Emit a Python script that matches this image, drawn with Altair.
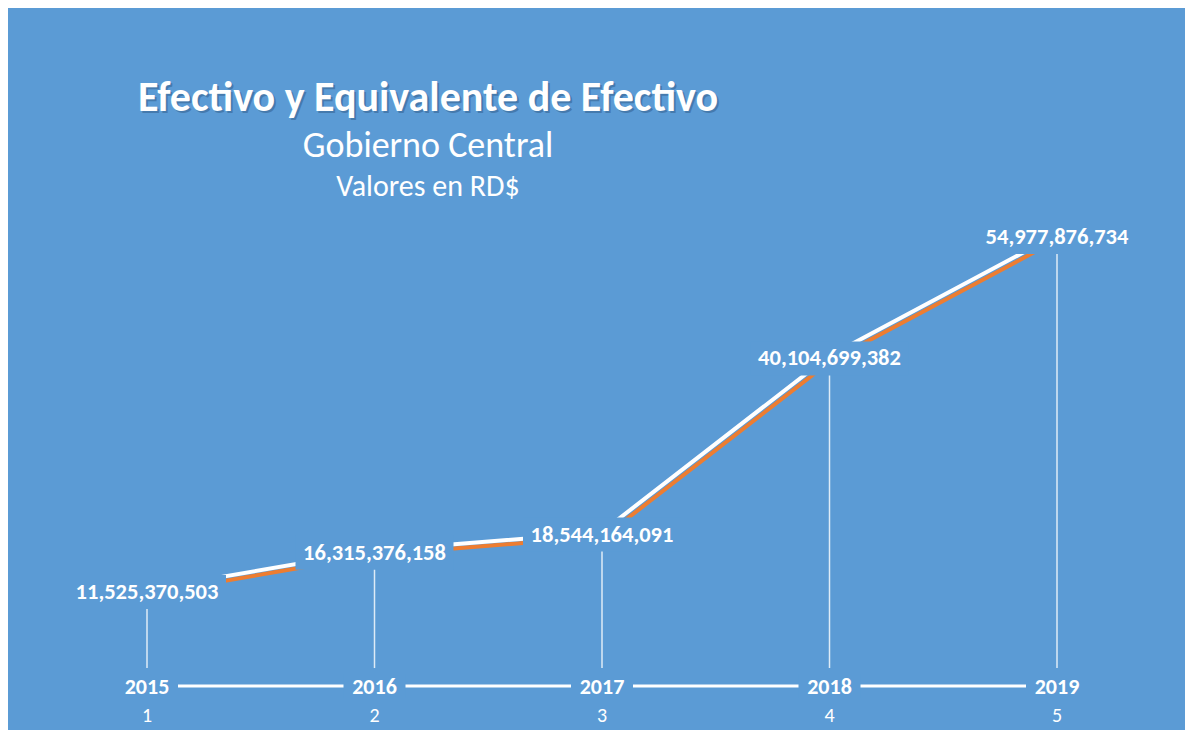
import altair as alt
import pandas as pd

# ---- data ----
years = [2015, 2016, 2017, 2018, 2019]
values = [11525370503, 16315376158, 18544164091, 40104699382, 54977876734]
index_labels = ["1", "2", "3", "4", "5"]
title_lines = ["Efectivo y Equivalente de Efectivo", "Gobierno Central", "Valores en RD$"]

BG = "#5B9BD5"
ORANGE = "#ED7D31"
FONT = "Carlito, Calibri, Lato, sans-serif"

df = pd.DataFrame({"year": years, "value": values, "idx": index_labels})

xs = alt.Scale(domain=[2015, 2019], range=[139, 1049], nice=False, zero=False)
ys = alt.Scale(domain=[0, 60e9], range=[678, 188], nice=False, zero=False)

X = alt.X("year:Q", scale=xs, axis=None)
Y = alt.Y("value:Q", scale=ys, axis=None)
Y0 = alt.YDatum(0, type="quantitative", scale=ys, axis=None)

base = alt.Chart(df)

orange_line = base.mark_line(color=ORANGE, strokeWidth=4, xOffset=2, yOffset=2).encode(x=X, y=Y)
white_line = base.mark_line(color="white", strokeWidth=4, xOffset=-1, yOffset=-2).encode(x=X, y=Y)

drops = base.mark_rule(color="white", strokeWidth=1.5, opacity=0.8).encode(
    x=X, y=Y, y2=alt.Y2Datum(2.2e9)
)

label_boxes = base.mark_rect(fill=BG, width=158, height=34).encode(x=X, y=Y)

axis_line = base.mark_rule(color="white", strokeWidth=3).encode(
    x=alt.X("min(year):Q", scale=xs, axis=None), x2="max(year):Q", y=Y0
)
year_boxes = base.mark_rect(fill=BG, width=62, height=24).encode(x=X, y=Y0)

year_text = base.mark_text(font=FONT, fontSize=22, fontWeight="bold", color="white",
                           baseline="middle", dy=1).encode(
    x=X, y=Y0, text=alt.Text("year:Q", format="d"))
idx_text = base.mark_text(font=FONT, fontSize=20, color="white",
                          baseline="middle", dy=30).encode(
    x=X, y=Y0, text="idx:N")

value_text = base.mark_text(font=FONT, fontSize=22.5, fontWeight="bold", color="white",
                            baseline="middle").encode(
    x=X, y=Y, text=alt.Text("value:Q", format=",.0f"))

tdf = pd.DataFrame({"t": title_lines[:1]})
sdf = pd.DataFrame({"t": title_lines[1:2]})
vdf = pd.DataFrame({"t": title_lines[2:3]})

title_shadow = alt.Chart(tdf).mark_text(font=FONT, fontSize=42, fontWeight="bold", color="#1f3f66",
                                        opacity=0.35, baseline="middle", dx=2, dy=2).encode(
    x=alt.value(420), y=alt.value(90), text="t:N")
title = alt.Chart(tdf).mark_text(font=FONT, fontSize=42, fontWeight="bold", color="white",
                                 baseline="middle").encode(
    x=alt.value(420), y=alt.value(90), text="t:N")
sub = alt.Chart(sdf).mark_text(font=FONT, fontSize=36, color="white", baseline="middle").encode(
    x=alt.value(420), y=alt.value(138), text="t:N")
val = alt.Chart(vdf).mark_text(font=FONT, fontSize=30, color="white", baseline="middle").encode(
    x=alt.value(420), y=alt.value(179), text="t:N")

chart = alt.layer(
    orange_line, white_line, drops, label_boxes, axis_line, year_boxes,
    year_text, idx_text, value_text, title_shadow, title, sub, val
).properties(
    width=1177, height=722, background=BG, padding=0,
    autosize=alt.AutoSizeParams(type="none")
).configure_view(stroke=None)

chart.save("out.html", embed_options={"renderer": "svg", "actions": False})
